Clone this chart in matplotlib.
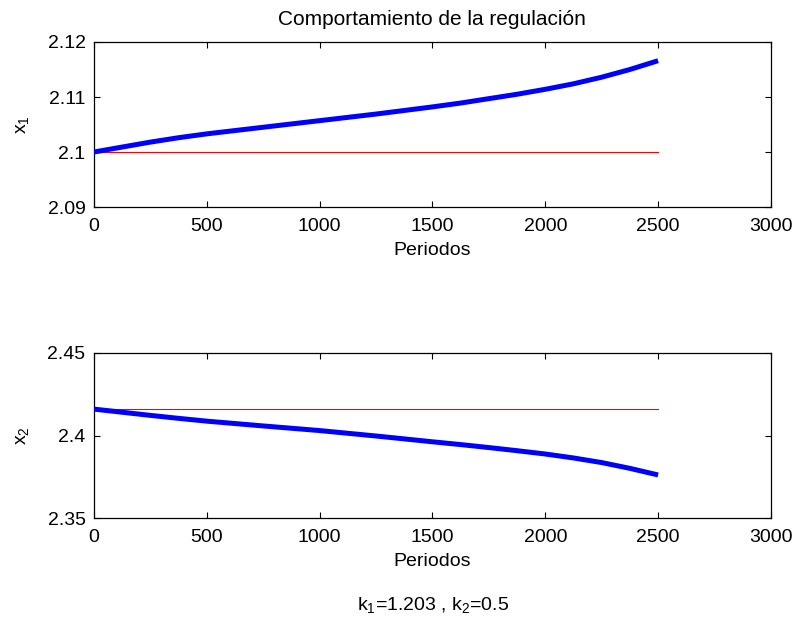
"""Comportamiento de la regulacion: estados x1 y x2 frente a su referencia."""

import matplotlib
matplotlib.use("Agg")
import matplotlib.pyplot as plt
import numpy as np

plt.rcParams["font.family"] = ["Liberation Sans", "DejaVu Sans"]
plt.rcParams["mathtext.fontset"] = "custom"
plt.rcParams["mathtext.rm"] = "Liberation Sans"
plt.rcParams["mathtext.it"] = "Liberation Sans"
plt.rcParams["mathtext.default"] = "regular"

# Periodos muestreados
periodos = [0, 125, 250, 375, 500, 750, 1000, 1250, 1500, 1625, 1750,
            1875, 2000, 2125, 2250, 2375, 2500]

# Trayectorias simuladas de los estados
x1 = [2.1000, 2.1009, 2.1018, 2.1026, 2.1033, 2.1045, 2.1057, 2.1069,
      2.1082, 2.1089, 2.1097, 2.1105, 2.1114, 2.1124, 2.1136, 2.1150,
      2.1166]
x2 = [2.4160, 2.4141, 2.4122, 2.4104, 2.4087, 2.4058, 2.4030, 2.3997,
      2.3962, 2.3945, 2.3927, 2.3908, 2.3888, 2.3864, 2.3836, 2.3801,
      2.3761]

# Valores de referencia (punto de equilibrio)
ref_x1 = 2.1
ref_x2 = 2.416

k1, k2 = 1.203, 0.5

FS = 14

fig = plt.figure(figsize=(7.96, 6.23), dpi=100)
ax1 = fig.add_axes([0.118, 0.6677, 0.8505, 0.2649])
ax2 = fig.add_axes([0.118, 0.1685, 0.8505, 0.2649])

paneles = [
    (ax1, x1, ref_x1, (2.09, 2.12), [2.09, 2.1, 2.11, 2.12], "x$_1$"),
    (ax2, x2, ref_x2, (2.35, 2.45), [2.35, 2.4, 2.45], "x$_2$"),
]

for ax, serie, ref, ylim, yticks, ylab in paneles:
    t = np.array(periodos)
    ax.plot(t, np.full(len(t), ref), color="red", linewidth=0.8, zorder=2)
    ax.plot(t, serie, color="blue", linewidth=3.6, zorder=3,
            solid_joinstyle="round", solid_capstyle="butt")
    ax.set_xlim(0, 3000)
    ax.set_ylim(*ylim)
    ax.set_xticks([0, 500, 1000, 1500, 2000, 2500, 3000])
    ax.set_yticks(yticks)
    ax.set_yticklabels([f"{v:g}" for v in yticks])
    ax.tick_params(direction="in", length=4, width=0.8, top=True, right=True,
                   labelsize=FS)
    ax.tick_params(axis="x", pad=8)
    ax.tick_params(axis="y", pad=6)
    for sp in ax.spines.values():
        sp.set_linewidth(0.9)
    ax.set_xlabel("Periodos", fontsize=FS, labelpad=5)
    ax.set_ylabel(ylab, fontsize=FS, labelpad=12)

ax1.set_title("Comportamiento de la regulación", fontsize=15, pad=12)
fig.text(0.5435, 1 - 605 / 623, f"k$_1$={k1:.3f} , k$_2$={k2:g}",
         ha="center", va="center", fontsize=FS)

fig.savefig("out.png", dpi=100)
